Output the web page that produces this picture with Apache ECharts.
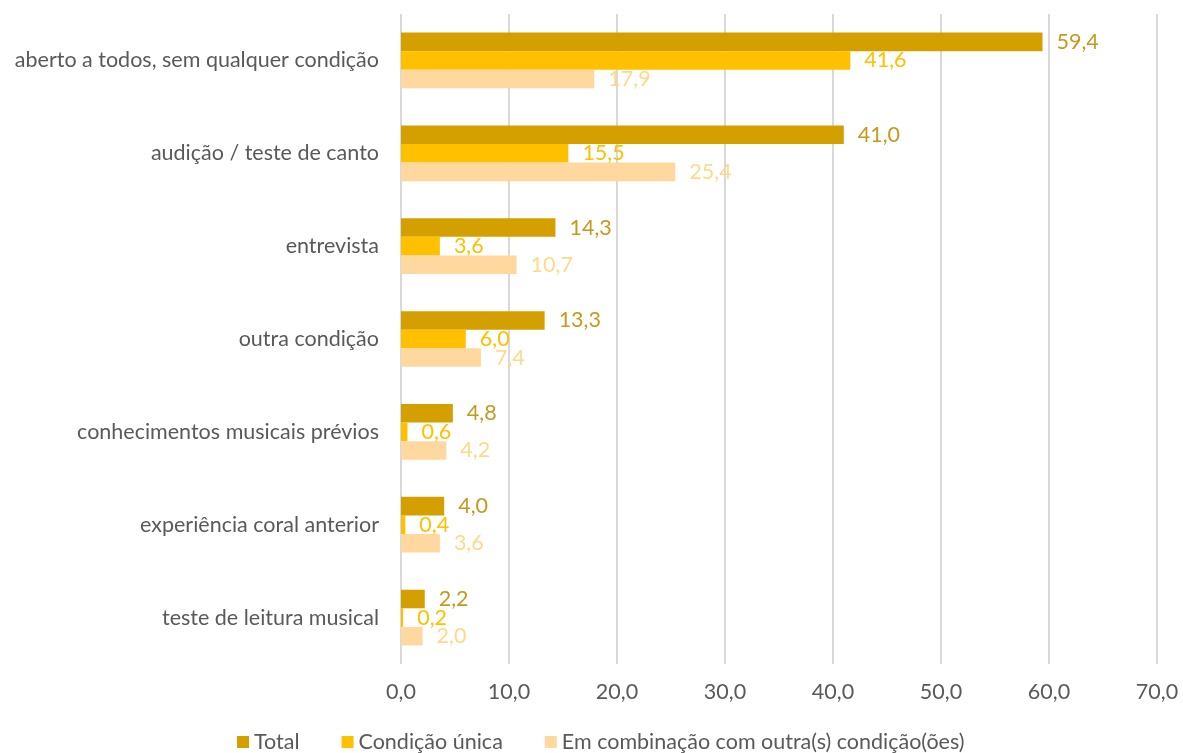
<!DOCTYPE html>
<html>
<head>
<meta charset="utf-8">
<script src="https://cdn.jsdelivr.net/npm/echarts@6/dist/echarts.min.js"></script>
<style>
  html, body { margin: 0; padding: 0; background: #fff; }
  #chart { width: 1183px; height: 753px; }
</style>
</head>
<body>
<div id="chart"></div>
<script>
// Admission conditions, percentages (top to bottom as shown)
const categories = [
  'aberto a todos, sem qualquer condição',
  'audição / teste de canto',
  'entrevista',
  'outra condição',
  'conhecimentos musicais prévios',
  'experiência coral anterior',
  'teste de leitura musical'
];
const totalValues = [59.4, 41.0, 14.3, 13.3, 4.8, 4.0, 2.2];
const unicaValues = [41.6, 15.5, 3.6, 6.0, 0.6, 0.4, 0.2];
const combinacaoValues = [17.9, 25.4, 10.7, 7.4, 4.2, 3.6, 2.0];
const seriesNames = ['Total', 'Condição única', 'Em combinação com outra(s) condição(ões)'];

const FONT = 'Lato, "Open Sans", sans-serif';
const FS = 21.5;
const fmt = v => v.toFixed(1).replace('.', ',');

function barSeries(name, values, color, labelColor) {
  return {
    name: name,
    type: 'bar',
    data: values,
    itemStyle: { color: color },
    barGap: '0%',
    barCategoryGap: '40%',
    label: {
      show: true,
      position: 'right',
      distance: 14,
      color: labelColor,
      fontFamily: FONT,
      fontSize: FS,
      formatter: p => fmt(p.value)
    }
  };
}

const chart = echarts.init(document.getElementById('chart'));
chart.setOption({
  animation: false,
  backgroundColor: '#ffffff',
  grid: { left: 401, right: 26, top: 14, bottom: 89, containLabel: false },
  legend: {
    top: 731,
    left: 237,
    padding: 0,
    itemWidth: 12,
    itemHeight: 12,
    itemGap: 42,
    icon: 'rect',
    textStyle: { color: '#595959', fontFamily: FONT, fontSize: FS },
    data: seriesNames
  },
  xAxis: {
    type: 'value',
    min: 0,
    max: 70,
    interval: 10,
    axisLine: { show: false },
    axisTick: { show: false },
    splitLine: { lineStyle: { color: '#d9d9d9', width: 2 } },
    axisLabel: {
      color: '#595959',
      fontFamily: FONT,
      fontSize: FS,
      margin: 17,
      formatter: v => fmt(v)
    }
  },
  yAxis: {
    type: 'category',
    data: categories,
    inverse: true,
    axisLine: { show: false },
    axisTick: { show: false },
    axisLabel: { color: '#595959', fontFamily: FONT, fontSize: FS, margin: 22 }
  },
  series: [
    barSeries(seriesNames[0], totalValues, '#D4A000', '#C49A1E'),
    barSeries(seriesNames[1], unicaValues, '#FFC000', '#FFC000'),
    barSeries(seriesNames[2], combinacaoValues, '#FFD8A0', '#FFD98A')
  ]
});
</script>
</body>
</html>
